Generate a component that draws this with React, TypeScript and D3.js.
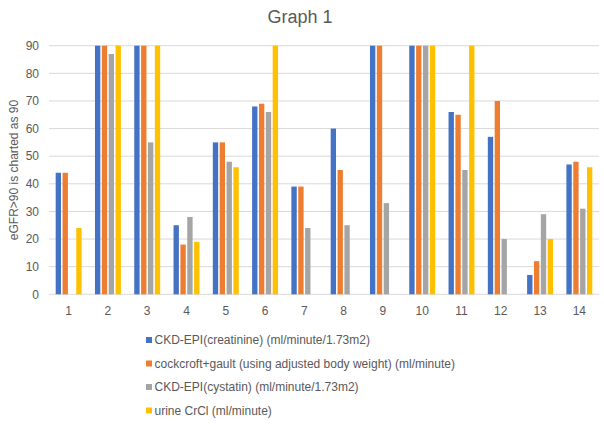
import * as d3 from "d3";
import { useEffect, useRef } from "react";

const categories = ["1", "2", "3", "4", "5", "6", "7", "8", "9", "10", "11", "12", "13", "14"];
const ckdCreatinine = [44, 90, 90, 25, 55, 68, 39, 60, 90, 90, 66, 57, 7, 47];
const cockcroftGault = [44, 90, 90, 18, 55, 69, 39, 45, 90, 90, 65, 70, 12, 48];
const ckdCystatin = [null, 87, 55, 28, 48, 66, 24, 25, 33, 90, 45, 20, 29, 31];
const urineCrCl = [24, 90, 90, 19, 46, 90, null, null, null, 90, 90, null, 20, 46];
const yTicks = [0, 10, 20, 30, 40, 50, 60, 70, 80, 90];

const seriesNames = [
    "CKD-EPI(creatinine) (ml/minute/1.73m2)",
    "cockcroft+gault (using adjusted body weight) (ml/minute)",
    "CKD-EPI(cystatin) (ml/minute/1.73m2)",
    "urine CrCl (ml/minute)",
];
const seriesColors = ["#4472C4", "#ED7D31", "#A5A5A5", "#FFC000"];

export default function App() {
    const ref = useRef<SVGSVGElement | null>(null);

    useEffect(() => {
        if (!ref.current) return;
        const width = 604;
        const height = 424;
        const plot = { left: 49, right: 599, top: 45.7, bottom: 294.3 };
        const font = "'Liberation Sans', Arial, sans-serif";
        const textColor = "#595959";

        const svg = d3.select(ref.current);
        svg.selectAll("*").remove();

        const series = [ckdCreatinine, cockcroftGault, ckdCystatin, urineCrCl];

        const x0 = d3.scaleBand()
            .domain(categories)
            .range([plot.left, plot.right])
            .paddingInner(0.34)
            .paddingOuter(0.17);

        const x1 = d3.scaleBand<number>()
            .domain(d3.range(series.length))
            .range([0, x0.bandwidth()])
            .paddingInner(0.22);

        const y = d3.scaleLinear().domain([0, 90]).range([plot.bottom, plot.top]);

        svg.append("rect").attr("width", width).attr("height", height).attr("fill", "#fff");

        // title
        svg.append("text")
            .attr("x", 300)
            .attr("y", 23)
            .attr("text-anchor", "middle")
            .attr("font-family", font)
            .attr("font-size", 18)
            .attr("fill", textColor)
            .text("Graph 1");

        // grid + y labels
        const grid = svg.append("g");
        grid.selectAll("line")
            .data(yTicks)
            .join("line")
            .attr("x1", plot.left)
            .attr("x2", plot.right)
            .attr("y1", (d) => y(d))
            .attr("y2", (d) => y(d))
            .attr("stroke", "#d9d9d9")
            .attr("stroke-width", 1);

        grid.selectAll("text")
            .data(yTicks)
            .join("text")
            .attr("x", 39)
            .attr("y", (d) => y(d))
            .attr("dy", "0.35em")
            .attr("text-anchor", "end")
            .attr("font-family", font)
            .attr("font-size", 12)
            .attr("fill", textColor)
            .text((d) => d);

        // y axis title
        svg.append("text")
            .attr("transform", `translate(18,170) rotate(-90)`)
            .attr("text-anchor", "middle")
            .attr("font-family", font)
            .attr("font-size", 12)
            .attr("fill", textColor)
            .text("eGFR>90 is charted as 90");

        // x labels
        svg.append("g")
            .selectAll("text")
            .data(categories)
            .join("text")
            .attr("x", (d) => x0(d)! + x0.bandwidth() / 2)
            .attr("y", 315)
            .attr("text-anchor", "middle")
            .attr("font-family", font)
            .attr("font-size", 12)
            .attr("fill", textColor)
            .text((d) => d);

        // bars
        series.forEach((vals, si) => {
            svg.append("g")
                .selectAll("rect")
                .data(vals.map((v, i) => ({ cat: categories[i], v })).filter((d) => d.v != null))
                .join("rect")
                .attr("x", (d) => x0(d.cat)! + x1(si)!)
                .attr("y", (d) => y(d.v as number))
                .attr("width", x1.bandwidth())
                .attr("height", (d) => y(0) - y(d.v as number))
                .attr("fill", seriesColors[si]);
        });

        // legend
        const legend = svg.append("g")
            .selectAll("g")
            .data(seriesNames)
            .join("g")
            .attr("transform", (_, i) => `translate(146,${340 + i * 23.5})`);
        legend.append("rect")
            .attr("x", 0)
            .attr("y", -3)
            .attr("width", 6)
            .attr("height", 6)
            .attr("fill", (_, i) => seriesColors[i]);
        legend.append("text")
            .attr("x", 8.5)
            .attr("y", 0)
            .attr("dy", "0.35em")
            .attr("font-family", font)
            .attr("font-size", 12)
            .attr("fill", textColor)
            .text((d) => d);
    }, []);

    return (
        <svg
            ref={ref}
            width={604}
            height={424}
            style={{ position: "absolute", left: 0, top: 0 }}
        ></svg>
    );
}
